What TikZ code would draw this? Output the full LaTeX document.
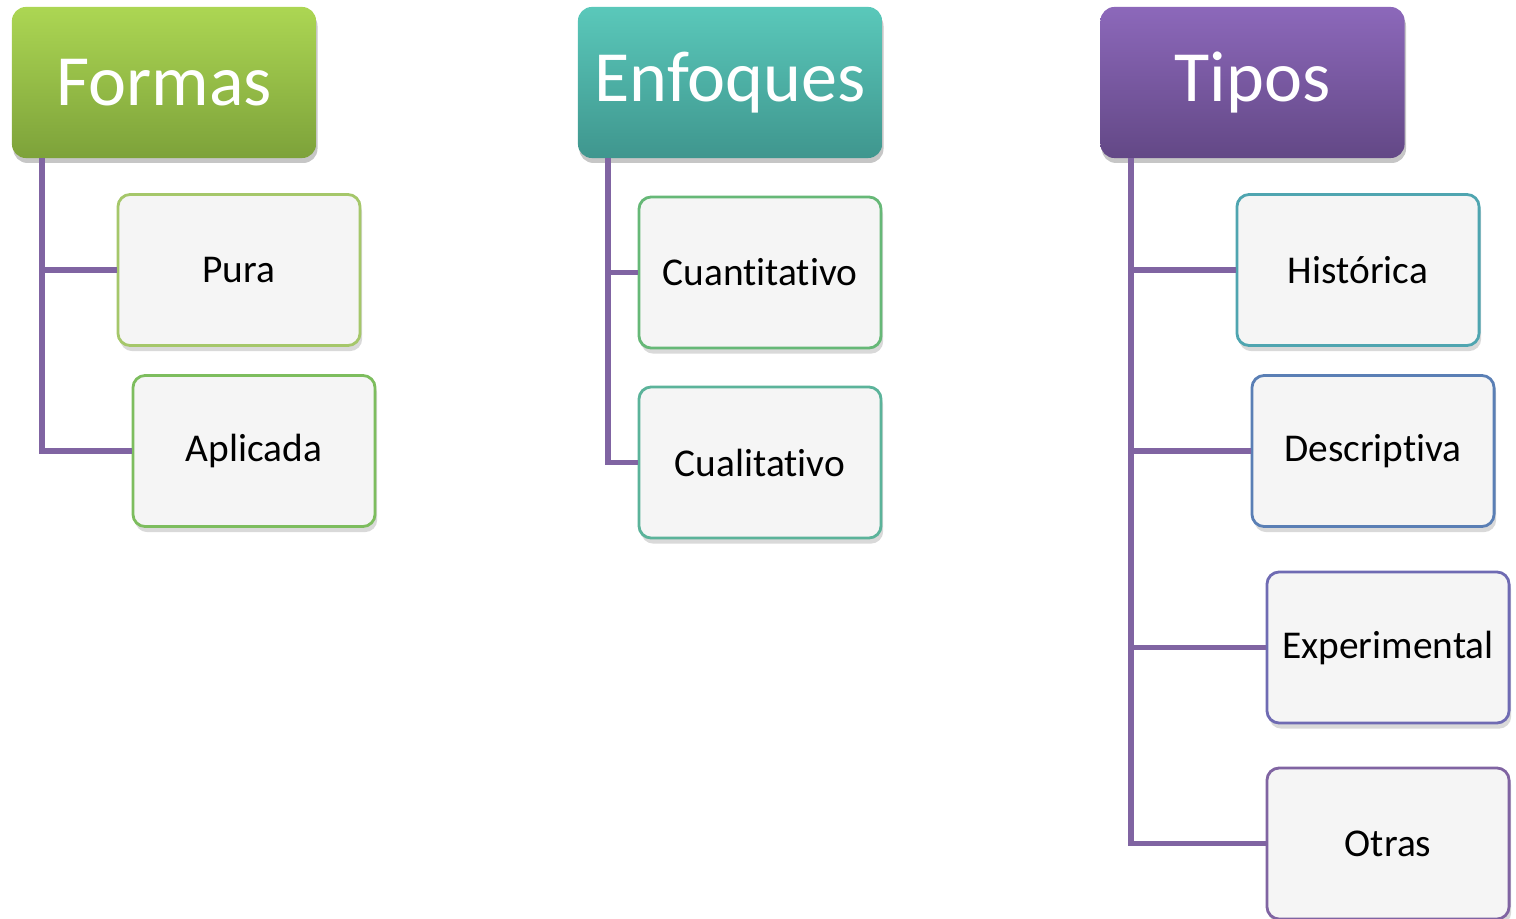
\documentclass[tikz,border=0pt]{standalone}
\usepackage{fontspec}
\setmainfont[Ligatures={NoCommon,NoContextual},Contextuals=NoAlternate]{Carlito}
\usetikzlibrary{shadows}

\definecolor{linkpurple}{HTML}{8064A2}
\definecolor{boxfill}{HTML}{F5F5F5}
\definecolor{formastop}{HTML}{ACD653}
\definecolor{formasbot}{HTML}{7DA23A}
\definecolor{enfoqtop}{HTML}{5AC8BA}
\definecolor{enfoqbot}{HTML}{3F968E}
\definecolor{tipostop}{HTML}{8C68BA}
\definecolor{tiposbot}{HTML}{634886}
\definecolor{edgeA}{HTML}{A5C76A}
\definecolor{edgeB}{HTML}{7DBD5E}
\definecolor{edgeC}{HTML}{66B877}
\definecolor{edgeD}{HTML}{5BB39A}
\definecolor{edgeE}{HTML}{4FA5B0}
\definecolor{edgeF}{HTML}{5A7FB5}
\definecolor{edgeG}{HTML}{6F6BB3}
\definecolor{edgeH}{HTML}{8064A2}

\tikzset{
  head/.style={rounded corners=4pt,minimum width=3.04cm,minimum height=1.51cm,
    text=white,font=\fontsize{20.5}{24}\selectfont,
    drop shadow={shadow xshift=0.4pt,shadow yshift=-1.4pt,opacity=0.45}},
  leaf/.style={draw=#1,line width=0.8pt,fill=boxfill,rounded corners=3.5pt,
    minimum width=2.42cm,minimum height=1.51cm,font=\fontsize{11.2}{13}\selectfont,
    drop shadow={shadow xshift=0.6pt,shadow yshift=-1.6pt,opacity=0.3}},
  link/.style={draw=linkpurple,line width=1.5pt}
}

\begin{document}
\begin{tikzpicture}[x=0.01cm,y=-0.01cm]
  \useasboundingbox (0,0) rectangle (1516,919);
  % headers
  \node[head,top color=formastop,bottom color=formasbot] (formas) at (164,82.5) {Formas};
  \node[head,top color=enfoqtop,bottom color=enfoqbot] (enfoques) at (730,82.5) {Enfoques};
  \node[head,top color=tipostop,bottom color=tiposbot] (tipos) at (1252.5,82.5) {Tipos};
  % leaves
  \node[leaf=edgeA] (pura) at (239,270) {Pura};
  \node[leaf=edgeB] (aplicada) at (254,451) {Aplicada};
  \node[leaf=edgeC] (cuanti) at (760,272.5) {Cuantitativo};
  \node[leaf=edgeD] (cuali) at (760,462.5) {Cualitativo};
  \node[leaf=edgeE] (historica) at (1358,270) {Histórica};
  \node[leaf=edgeF] (descriptiva) at (1373,451) {Descriptiva};
  \node[leaf=edgeG] (experimental) at (1388,647.5) {Experimental};
  \node[leaf=edgeH] (otras) at (1388,843.5) {Otras};
  % branches
  \coordinate (fr) at (42,158);
  \coordinate (en) at (608,158);
  \coordinate (ti) at (1131,158);
  \draw[link] (fr) |- (pura.west) (fr) |- (aplicada.west);
  \draw[link] (en) |- (cuanti.west) (en) |- (cuali.west);
  \draw[link] (ti) |- (historica.west) (ti) |- (descriptiva.west)
              (ti) |- (experimental.west) (ti) |- (otras.west);
\end{tikzpicture}
\end{document}
